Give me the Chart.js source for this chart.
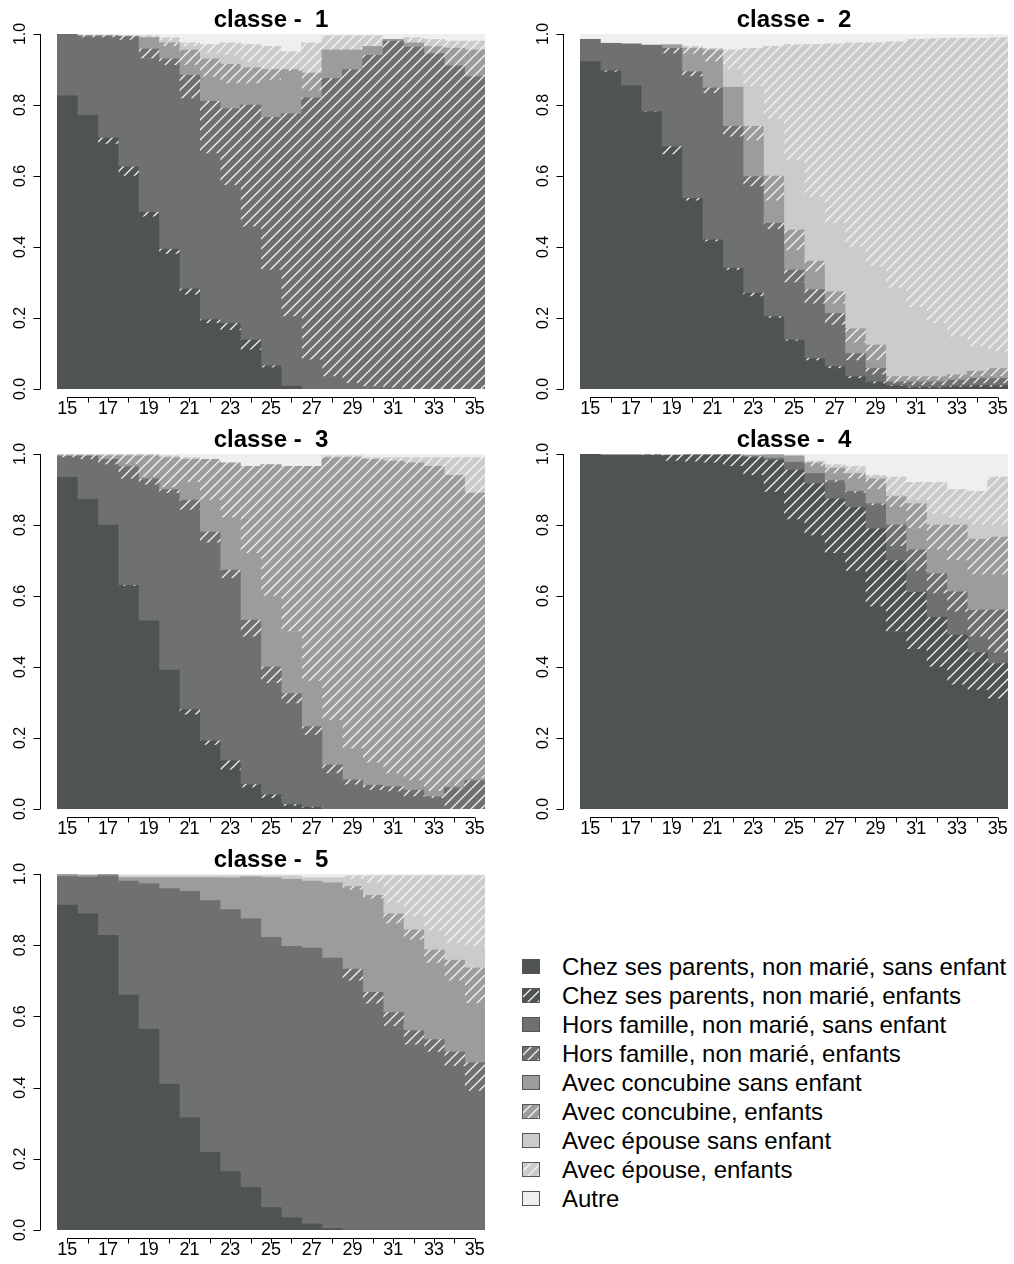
<!DOCTYPE html>
<html lang="fr">
<head>
<meta charset="utf-8">
<title>Etats par classe</title>
<script src="https://cdn.jsdelivr.net/npm/chart.js@4.4.1/dist/chart.umd.min.js"></script>
<style>
  body { margin: 0; background: #fff; }
  #page { position: relative; width: 1014px; height: 1264px; font-family: "Liberation Sans", Arial, sans-serif; }
  #page canvas.panneau { position: absolute; }
  .leg { position: absolute; left: 522px; height: 29px; width: 490px; }
  .leg canvas { position: absolute; left: 0; top: 7px; }
  .leg span { position: absolute; left: 40px; top: 0; font-size: 24px; line-height: 29px; color: #000; white-space: nowrap; }
</style>
</head>
<body>
<div id="page"></div>
<script>
const ages = [15, 16, 17, 18, 19, 20, 21, 22, 23, 24, 25, 26, 27, 28, 29, 30, 31, 32, 33, 34, 35];
const yTicks = [0, 0.2, 0.4, 0.6, 0.8, 1];

const etats = [
  'Chez ses parents, non marié, sans enfant',
  'Chez ses parents, non marié, enfants',
  'Hors famille, non marié, sans enfant',
  'Hors famille, non marié, enfants',
  'Avec concubine sans enfant',
  'Avec concubine, enfants',
  'Avec épouse sans enfant',
  'Avec épouse, enfants',
  'Autre'
];

// proportions par age, une ligne par etat (meme ordre que etats)
const classe1 = [
  [.826,.771,.69,.60,.485,.38,.265,.185,.165,.11,.06,.008,0,0,0,0,0,0,0,0,0],
  [0,0,.017,.026,.013,.014,.017,.01,.02,.028,.005,0,0,0,0,0,0,0,0,0,0],
  [.174,.219,.283,.357,.433,.518,.536,.468,.389,.319,.27,.196,.082,.035,.016,.007,.003,0,0,0,0],
  [0,.005,.005,.01,.027,.018,.066,.147,.216,.343,.43,.571,.738,.84,.884,.933,.977,.963,.945,.91,.88],
  [0,0,0,0,.032,.035,.028,.069,.07,.06,.105,.12,.02,.08,.055,.025,.005,.012,0,0,0],
  [0,0,0,0,0,.01,.043,.051,.055,.045,.03,.005,.05,0,0,0,0,0,.02,.05,.075],
  [0,0,0,0,0,.005,.01,.015,.025,.015,0,0,0,0,0,0,0,0,0,0,0],
  [0,.002,.002,.003,.005,.01,.01,.025,.035,.05,.065,.05,.085,.04,.04,.03,0,.015,.02,.02,.025],
  [0,.003,.003,.004,.005,.01,.025,.03,.025,.03,.035,.05,.025,.005,.005,.005,.015,.01,.015,.02,.02]
];

const classe2 = [
  [.922,.893,.854,.78,.66,.53,.415,.335,.26,.20,.135,.08,.058,.03,.015,.008,.003,.003,.005,.005,.005],
  [0,.003,0,.001,.023,.007,.005,.005,.01,.004,.003,.006,.005,.005,.005,.002,.002,.002,.003,.005,.005],
  [.063,.078,.118,.188,.262,.343,.413,.37,.30,.246,.162,.154,.117,.045,.02,.005,.005,.005,.004,.005,.005],
  [0,0,0,0,.015,.014,.015,.03,.028,.017,.035,.04,.033,.02,.018,.005,.01,.01,.013,.015,.015],
  [0,0,0,0,.01,.05,.074,.11,.102,.063,.055,.05,.027,.03,.022,0,.005,.005,.005,.005,.005],
  [0,0,0,0,0,.016,.033,0,.04,.07,.058,.03,.034,.04,.044,.015,.01,.01,.01,.015,.023],
  [0,0,0,0,0,0,0,.05,.112,.16,.197,.18,.193,.23,.221,.249,.195,.15,.107,.07,.047],
  [0,0,0,0,0,.005,.005,.055,.108,.205,.325,.43,.505,.575,.63,.694,.755,.802,.841,.868,.885],
  [.015,.026,.028,.031,.03,.035,.04,.045,.04,.035,.03,.03,.028,.025,.025,.022,.015,.013,.012,.012,.01]
];

const classe3 = [
  [.934,.872,.80,.628,.531,.391,.265,.18,.11,.06,.03,.008,.003,0,0,0,0,0,0,0,0],
  [0,0,0,.002,0,0,.015,.012,.026,.009,.01,.005,.002,0,0,0,0,0,0,0,0],
  [.056,.113,.17,.30,.382,.498,.562,.558,.514,.416,.314,.284,.203,.10,.068,.053,.049,.035,.03,0,0],
  [.005,.01,.015,.035,.017,.011,.028,.03,.023,.047,.046,.028,.024,.024,.014,.014,.014,.018,.005,.06,.08],
  [0,0,0,.005,.005,.005,.05,.09,.147,.188,.20,.175,.128,.126,.088,.063,.037,.027,.015,.005,.005],
  [0,0,.01,.025,.06,.085,.065,.115,.155,.245,.37,.465,.605,.74,.82,.855,.88,.895,.915,.875,.805],
  [0,0,0,0,0,0,0,0,0,0,0,0,0,0,0,0,0,0,0,0,0],
  [.005,.005,.005,.005,.005,.005,.005,0,0,0,0,0,0,.005,.005,.005,.01,.015,.025,.05,.10],
  [0,0,0,0,0,.005,.01,.015,.025,.035,.03,.035,.035,.005,.005,.01,.01,.01,.01,.01,.01]
];

const classe4 = [
  [1,.998,.998,.996,.98,.978,.975,.965,.94,.893,.815,.77,.72,.67,.57,.50,.45,.40,.35,.335,.31],
  [0,0,0,.002,.017,.02,.023,.033,.05,.09,.14,.147,.154,.18,.22,.20,.16,.14,.14,.105,.10],
  [0,0,0,0,0,0,0,0,0,.005,.022,.028,.046,.04,.065,.04,.06,.067,.065,.045,.03],
  [0,0,0,0,0,0,0,0,.003,0,0,0,.005,.005,.005,.06,.06,.056,.057,.075,.12],
  [0,0,0,0,0,0,0,0,.004,.01,.018,.02,.02,.035,.04,.05,.06,.067,.088,.10,.10],
  [0,0,0,0,0,0,0,0,0,0,0,.01,.015,.015,.03,.03,.07,.07,.10,.10,.106],
  [0,0,0,0,0,0,0,0,0,0,0,0,.005,.005,.005,.005,.01,.03,.02,.04,.034],
  [0,0,0,0,0,0,0,0,0,0,0,.005,.005,.015,.005,.05,.05,.09,.08,.095,.135],
  [0,.002,.002,.002,.003,.002,.002,.002,.003,.002,.005,.02,.03,.035,.06,.065,.08,.08,.10,.105,.065]
];

const classe5 = [
  [.913,.888,.828,.66,.564,.41,.316,.218,.164,.12,.063,.035,.017,.004,0,0,0,0,0,0,0],
  [0,0,0,0,0,0,0,0,0,0,0,0,0,0,0,0,0,0,0,0,0],
  [.08,.103,.167,.32,.409,.549,.635,.707,.736,.755,.759,.762,.775,.76,.70,.635,.572,.52,.50,.46,.39],
  [0,0,0,0,0,0,0,0,0,0,0,0,0,0,.033,.033,.039,.04,.035,.04,.08],
  [.007,.006,.005,.01,.017,.031,.039,.065,.089,.117,.168,.188,.188,.211,.222,.262,.249,.255,.215,.20,.167],
  [0,0,0,0,0,0,0,0,0,0,0,0,0,0,.01,.01,.028,.028,.037,.058,.099],
  [0,0,0,.005,.005,.005,.005,.005,.006,.003,.005,.01,.01,.015,.02,.035,.03,.037,.053,.047,.061],
  [0,0,0,0,0,0,0,0,0,0,0,0,0,0,.01,.02,.077,.115,.155,.19,.198],
  [0,.003,0,.005,.005,.005,.005,.005,.005,.005,.005,.005,.01,.01,.005,.005,.005,.005,.005,.005,.005]
];

// gris de base et hachures (etats "enfants")
const teintes = ['#4f5354', '#4f5354', '#6f7072', '#6f7072', '#9b9c9e', '#9b9c9e', '#cbcbcb', '#cbcbcb', '#efefef'];
const hachures = [false, true, false, true, false, true, false, true, false];

function motif(ctx, couleur, hache) {
  if (!hache) return couleur;
  const n = 10;
  const t = document.createElement('canvas');
  t.width = n; t.height = n;
  const g = t.getContext('2d');
  g.fillStyle = couleur;
  g.fillRect(0, 0, n, n);
  g.strokeStyle = '#f4f4f4';
  g.lineWidth = 1.3;
  g.beginPath();
  g.moveTo(-2, n + 2); g.lineTo(n + 2, -2);
  g.moveTo(-2, 2); g.lineTo(2, -2);
  g.moveTo(n - 2, n + 2); g.lineTo(n + 2, n - 2);
  g.stroke();
  return ctx.createPattern(t, 'repeat');
}

const police = '"Liberation Sans", Arial, sans-serif';

// axes façon R : decales du cadre
const axesR = {
  id: 'axesR',
  afterDraw(chart, args, opts) {
    const { ctx, chartArea: a } = chart;
    const x = chart.scales.x;
    const y = chart.scales.y;
    ctx.save();
    ctx.strokeStyle = '#000';
    ctx.fillStyle = '#000';
    ctx.lineWidth = 1;

    const ax = a.left - 16.5;
    const ay = a.bottom + 8.5;
    ctx.beginPath();
    ctx.moveTo(ax, y.getPixelForValue(0));
    ctx.lineTo(ax, y.getPixelForValue(1));
    yTicks.forEach(v => {
      const py = Math.round(y.getPixelForValue(v)) + 0.5;
      ctx.moveTo(ax, py);
      ctx.lineTo(ax - 7, py);
    });
    ctx.moveTo(x.getPixelForValue(0), ay);
    ctx.lineTo(x.getPixelForValue(ages.length - 1), ay);
    ages.forEach((age, i) => {
      const px = Math.round(x.getPixelForValue(i)) + 0.5;
      ctx.moveTo(px, ay);
      ctx.lineTo(px, ay + 5);
    });
    ctx.stroke();

    ctx.textAlign = 'center';
    ctx.textBaseline = 'middle';
    ctx.font = '16px ' + police;
    yTicks.forEach(v => {
      ctx.save();
      ctx.translate(a.left - 36, y.getPixelForValue(v));
      ctx.rotate(-Math.PI / 2);
      ctx.fillText(v.toFixed(1), 0, 0);
      ctx.restore();
    });
    ctx.font = '18px ' + police;
    ages.forEach((age, i) => {
      if (age % 2 === 1) ctx.fillText(String(age), x.getPixelForValue(i), a.bottom + 20);
    });

    ctx.font = 'bold 24px ' + police;
    ctx.fillText(opts.titre, (a.left + a.right) / 2, a.top - 14);
    ctx.restore();
  }
};

const panneaux = [
  { titre: 'classe -  1', donnees: classe1, left: 0, top: 0, w: 507, h: 420, pad: { left: 57, right: 22, top: 34, bottom: 31 } },
  { titre: 'classe -  2', donnees: classe2, left: 507, top: 0, w: 507, h: 420, pad: { left: 73, right: 6, top: 34, bottom: 31 } },
  { titre: 'classe -  3', donnees: classe3, left: 0, top: 420, w: 507, h: 420, pad: { left: 57, right: 22, top: 34, bottom: 31 } },
  { titre: 'classe -  4', donnees: classe4, left: 507, top: 420, w: 507, h: 420, pad: { left: 73, right: 6, top: 34, bottom: 31 } },
  { titre: 'classe -  5', donnees: classe5, left: 0, top: 840, w: 507, h: 424, pad: { left: 57, right: 22, top: 34, bottom: 34 } }
];

const page = document.getElementById('page');

panneaux.forEach(p => {
  const cv = document.createElement('canvas');
  cv.className = 'panneau';
  cv.width = p.w;
  cv.height = p.h;
  cv.style.left = p.left + 'px';
  cv.style.top = p.top + 'px';
  page.appendChild(cv);
  const ctx = cv.getContext('2d');

  const datasets = etats.map((etat, i) => ({
    label: etat,
    data: p.donnees[i].map(v => (v > 0 ? v : null)),
    backgroundColor: motif(ctx, teintes[i], hachures[i]),
    borderWidth: 0,
    barPercentage: 1,
    categoryPercentage: 1
  }));

  new Chart(cv, {
    type: 'bar',
    data: { labels: ages, datasets: datasets },
    options: {
      responsive: false,
      animation: false,
      devicePixelRatio: 1,
      layout: { padding: p.pad },
      plugins: {
        legend: { display: false },
        tooltip: { enabled: false },
        axesR: { titre: p.titre }
      },
      scales: {
        x: { stacked: true, display: false },
        y: { stacked: true, display: false, min: 0, max: 1 }
      }
    },
    plugins: [axesR]
  });
});

// legende
etats.forEach((etat, i) => {
  const ligne = document.createElement('div');
  ligne.className = 'leg';
  ligne.style.top = (966 + 29.05 * i - 14.5) + 'px';
  const c = document.createElement('canvas');
  c.width = 18;
  c.height = 15;
  const g = c.getContext('2d');
  g.fillStyle = motif(g, teintes[i], hachures[i]);
  g.fillRect(0, 0, 18, 15);
  g.strokeStyle = '#555';
  g.strokeRect(0.5, 0.5, 17, 14);
  const s = document.createElement('span');
  s.textContent = etat;
  ligne.appendChild(c);
  ligne.appendChild(s);
  page.appendChild(ligne);
});
</script>
</body>
</html>
